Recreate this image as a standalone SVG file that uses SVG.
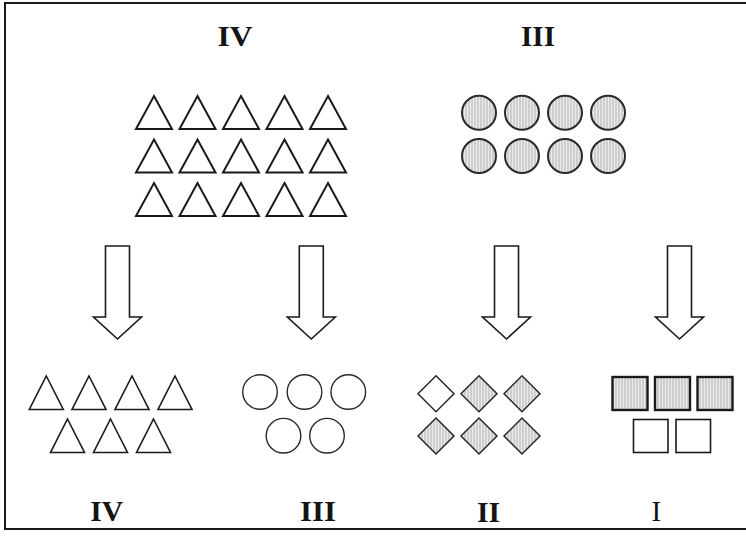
<svg xmlns="http://www.w3.org/2000/svg" xmlns:xlink="http://www.w3.org/1999/xlink" width="746" height="539" viewBox="0 0 746 539">
  <defs>
    <pattern id="hatch" width="3" height="6" patternUnits="userSpaceOnUse">
      <rect width="3" height="6" fill="#ebebeb"/>
      <line x1="1" y1="0" x2="1" y2="6" stroke="#b2b2b2" stroke-width="1"/>
    </pattern>
    <path id="triBig" d="M0,0 L18,33 L-18,33 Z"/>
    <path id="triSmall" d="M0,0 L17,33.5 L-17,33.5 Z"/>
    <path id="dia" d="M0,-18 L18,0 L0,18 L-18,0 Z"/>
    <path id="arrow" d="M-12,0 L12,0 L12,71 L24,71 L0,93 L-24,71 L-12,71 Z"/>
  </defs>
  <style>
    .tri { fill: #fff; stroke: #1a1a1a; stroke-width: 2; stroke-linejoin: miter; }
    .tri2 { fill: #fff; stroke: #1a1a1a; stroke-width: 1.6; }
    .circF { fill: url(#hatch); stroke: #2a2a2a; stroke-width: 2; }
    .circE { fill: #fff; stroke: #2a2a2a; stroke-width: 1.4; }
    .diaE { fill: #fff; stroke: #2a2a2a; stroke-width: 1.5; }
    .diaF { fill: url(#hatch); stroke: #2a2a2a; stroke-width: 1.5; }
    .sqF { fill: url(#hatch); stroke: #1a1a1a; stroke-width: 2.4; }
    .sqE { fill: #fff; stroke: #1a1a1a; stroke-width: 1.6; }
    .arr { fill: #fff; stroke: #1a1a1a; stroke-width: 1.6; stroke-linejoin: miter; }
    .lbl { font-family: "Liberation Serif", "Times New Roman", serif; font-size: 29px; font-weight: bold; fill: #141414; text-anchor: middle; }
  </style>
  <rect x="5" y="3" width="746" height="526" fill="#fff" stroke="#1a1a1a" stroke-width="2"/>

  <g id="top-IV">
    <text class="lbl" x="235" y="46" textLength="35" lengthAdjust="spacingAndGlyphs">IV</text>
    <g class="tri">
      <use xlink:href="#triBig" x="154" y="96"/><use xlink:href="#triBig" x="197.5" y="96"/><use xlink:href="#triBig" x="241" y="96"/><use xlink:href="#triBig" x="284.5" y="96"/><use xlink:href="#triBig" x="328" y="96"/>
      <use xlink:href="#triBig" x="154" y="139.5"/><use xlink:href="#triBig" x="197.5" y="139.5"/><use xlink:href="#triBig" x="241" y="139.5"/><use xlink:href="#triBig" x="284.5" y="139.5"/><use xlink:href="#triBig" x="328" y="139.5"/>
      <use xlink:href="#triBig" x="154" y="183"/><use xlink:href="#triBig" x="197.5" y="183"/><use xlink:href="#triBig" x="241" y="183"/><use xlink:href="#triBig" x="284.5" y="183"/><use xlink:href="#triBig" x="328" y="183"/>
    </g>
  </g>

  <g id="top-III">
    <text class="lbl" x="538" y="46" textLength="34" lengthAdjust="spacingAndGlyphs">III</text>
    <g class="circF">
      <circle cx="479" cy="112.7" r="17"/><circle cx="522" cy="112.7" r="17"/><circle cx="565" cy="112.7" r="17"/><circle cx="608" cy="112.7" r="17"/>
      <circle cx="479" cy="156" r="17"/><circle cx="522" cy="156" r="17"/><circle cx="565" cy="156" r="17"/><circle cx="608" cy="156" r="17"/>
    </g>
  </g>

  <g id="connectors" class="arr">
    <use xlink:href="#arrow" x="117.5" y="246"/>
    <use xlink:href="#arrow" x="311.3" y="246"/>
    <use xlink:href="#arrow" x="506.5" y="246"/>
    <use xlink:href="#arrow" x="679.5" y="246"/>
  </g>

  <g id="bottom-IV">
    <g class="tri2">
      <use xlink:href="#triSmall" x="46.3" y="376"/><use xlink:href="#triSmall" x="89" y="376"/><use xlink:href="#triSmall" x="132" y="376"/><use xlink:href="#triSmall" x="175" y="376"/>
      <use xlink:href="#triSmall" x="67.5" y="419"/><use xlink:href="#triSmall" x="110.5" y="419"/><use xlink:href="#triSmall" x="153.5" y="419"/>
    </g>
    <text class="lbl" x="106.7" y="521" textLength="33" lengthAdjust="spacingAndGlyphs">IV</text>
  </g>

  <g id="bottom-III">
    <g class="circE">
      <circle cx="260" cy="392" r="17.3"/><circle cx="304.5" cy="392" r="17.3"/><circle cx="348.3" cy="392" r="17.3"/>
      <circle cx="283.5" cy="435.7" r="17.3"/><circle cx="327" cy="435.7" r="17.3"/>
    </g>
    <text class="lbl" x="318" y="521" textLength="36" lengthAdjust="spacingAndGlyphs">III</text>
  </g>

  <g id="bottom-II">
    <use xlink:href="#dia" x="436" y="393.7" class="diaE"/>
    <use xlink:href="#dia" x="479" y="393.7" class="diaF"/>
    <use xlink:href="#dia" x="522" y="393.7" class="diaF"/>
    <use xlink:href="#dia" x="436" y="436" class="diaF"/>
    <use xlink:href="#dia" x="479" y="436" class="diaF"/>
    <use xlink:href="#dia" x="522" y="436" class="diaF"/>
    <text class="lbl" x="488.5" y="521.5" textLength="23" lengthAdjust="spacingAndGlyphs">II</text>
  </g>

  <g id="bottom-I">
    <rect class="sqF" x="612.5" y="377" width="35" height="33"/>
    <rect class="sqF" x="655" y="377" width="35" height="33"/>
    <rect class="sqF" x="697.5" y="377" width="35" height="33"/>
    <rect class="sqE" x="633.5" y="419.5" width="34.5" height="33"/>
    <rect class="sqE" x="676" y="419.5" width="34.5" height="33"/>
    <text class="lbl" x="656.3" y="521" style="font-weight:normal">I</text>
  </g>
</svg>
